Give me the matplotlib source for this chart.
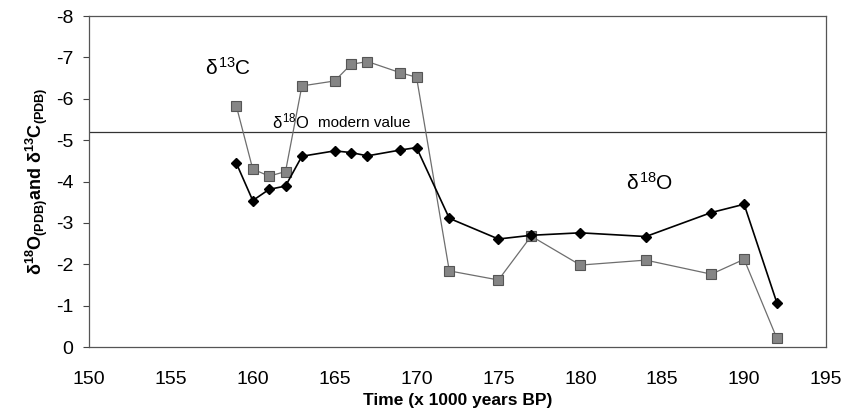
import matplotlib
matplotlib.use("Agg")
import matplotlib.pyplot as plt

plt.rcParams['font.family'] = ['Liberation Sans', 'DejaVu Sans']
plt.rcParams['mathtext.fontset'] = 'custom'
plt.rcParams['mathtext.rm'] = 'Liberation Sans'
plt.rcParams['mathtext.it'] = 'Liberation Sans'
plt.rcParams['mathtext.bf'] = 'Liberation Sans:bold'

# --- DATA ---
time_o18 = [159, 160, 161, 162, 163, 165, 166, 167, 169, 170, 172, 175, 177, 180, 184, 188, 190, 192]
d18o = [-4.44, -3.54, -3.81, -3.89, -4.61, -4.74, -4.70, -4.62, -4.76, -4.82,
        -3.11, -2.61, -2.70, -2.76, -2.67, -3.25, -3.45, -1.07]

time_c13 = [159, 160, 161, 162, 163, 165, 166, 167, 169, 170, 172, 175, 177, 180, 184, 188, 190, 192]
d13c = [-5.82, -4.30, -4.13, -4.24, -6.31, -6.43, -6.83, -6.90, -6.63, -6.52,
        -1.84, -1.62, -2.68, -1.98, -2.10, -1.76, -2.12, -0.21]

modern_d18o = -5.2

x_ticks = [150, 155, 160, 165, 170, 175, 180, 185, 190, 195]
y_ticks = [0, -1, -2, -3, -4, -5, -6, -7, -8]

fig = plt.figure(figsize=(8.45, 4.2), dpi=100)
ax = fig.add_axes([0.1053, 0.1738, 0.8722, 0.7881])

ax.plot(time_c13, d13c, color='#6e6e6e', lw=0.9, marker='s', ms=6.7,
        mfc='#858585', mec='#555555', mew=0.8, zorder=3)
ax.plot(time_o18, d18o, color='black', lw=1.2, marker='D', ms=5,
        mfc='black', mec='black', zorder=4)
ax.axhline(modern_d18o, color='#333333', lw=0.9, zorder=2)

ax.text(158.5, -6.74, r'$\delta^{13}$C', fontsize=15, ha='center', va='center')
ax.text(184.2, -3.96, r'$\delta^{18}$O', fontsize=15, ha='center', va='center')
ax.text(162.3, -5.45, r'$\delta^{18}$O', fontsize=12, ha='center', va='center')
ax.text(164.0, -5.42, 'modern value', fontsize=11, ha='left', va='center')

ax.set_xlim(150, 195)
ax.set_ylim(0, -8)
ax.set_xticks(x_ticks)
ax.set_yticks(y_ticks)
ax.set_yticklabels([str(v) for v in y_ticks])
ax.tick_params(axis='x', length=0, pad=17, labelsize=14)
ax.tick_params(axis='y', length=4.3, pad=7, labelsize=14, color='#444444')

for sp in ax.spines.values():
    sp.set_color('#555555')
    sp.set_linewidth(0.9)

ax.set_xlabel('Time (x 1000 years BP)', fontsize=12.5, fontweight='bold', labelpad=4)
ax.set_ylabel(r'$\mathbf{\delta^{18}O_{(PDB)}and\ \delta^{13}C_{(PDB)}}$', fontsize=13, labelpad=4)

fig.savefig('out.png', dpi=100)
